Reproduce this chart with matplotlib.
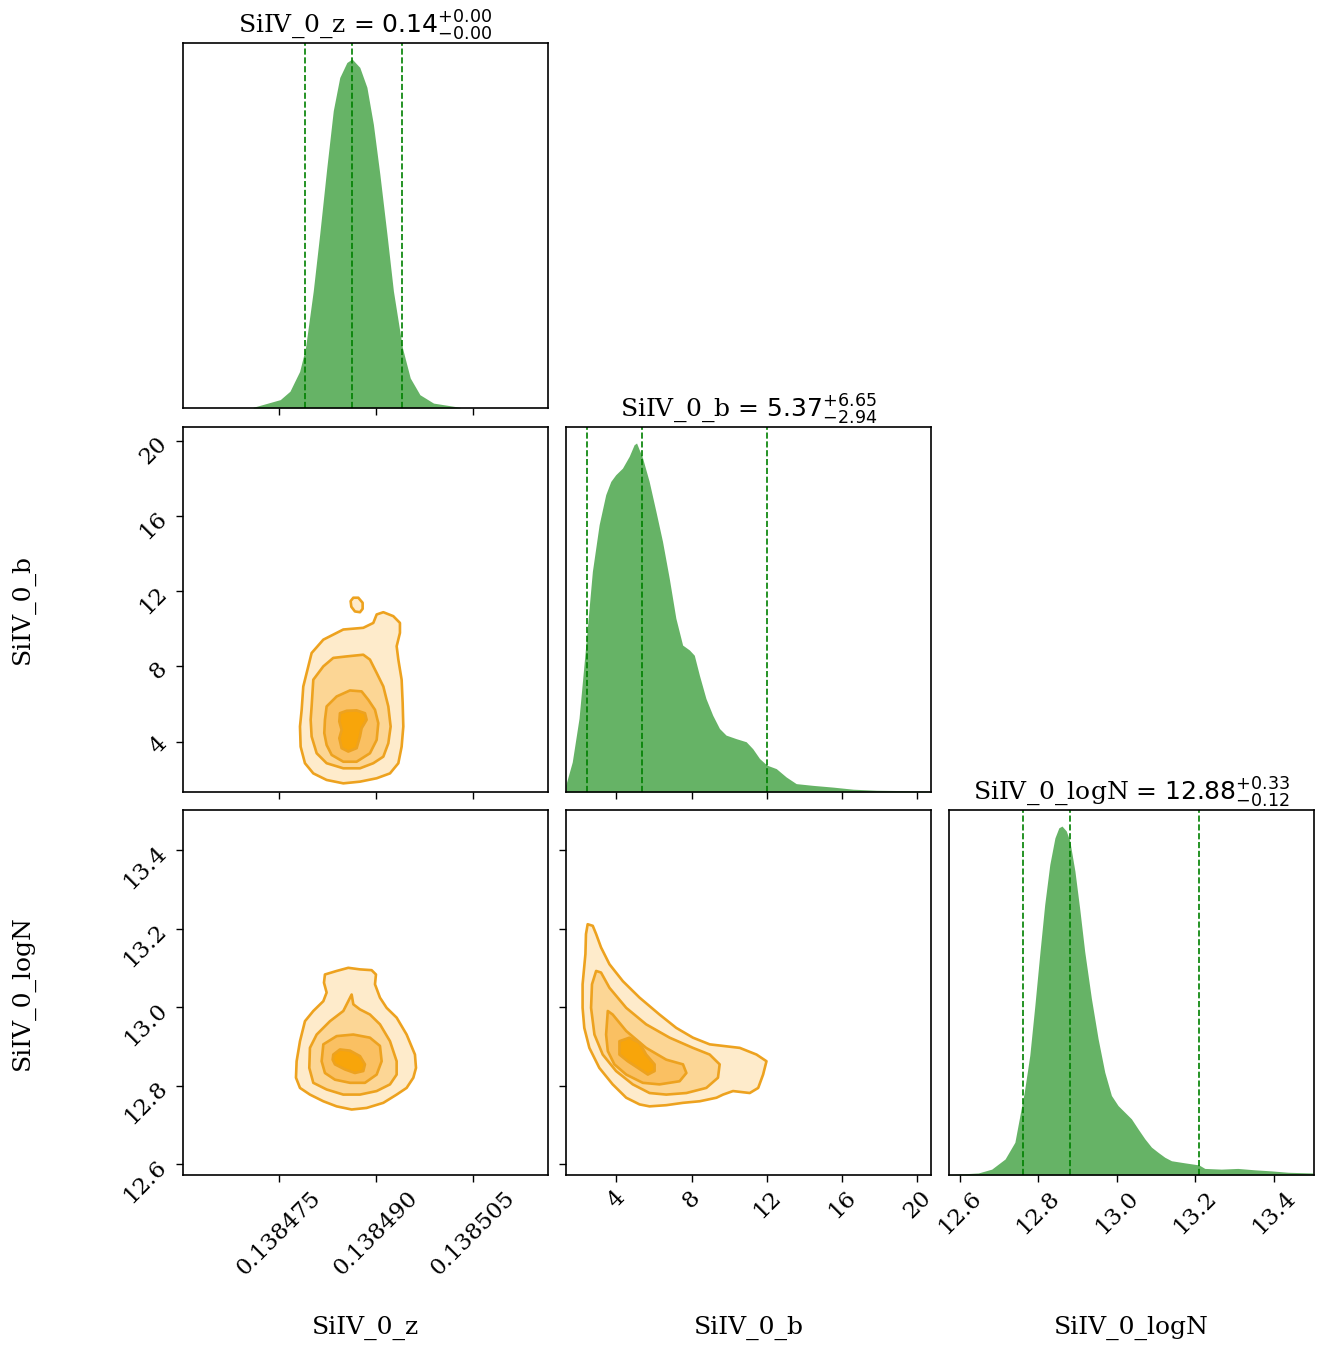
import numpy as np
import matplotlib
matplotlib.use("Agg")
import matplotlib.pyplot as plt

plt.rcParams['font.family'] = ['DejaVu Serif']

# ---- parameters, quantiles (16/50/84) and axis ranges ----
names = ["SiIV_0_z", "SiIV_0_b", "SiIV_0_logN"]
medians = [0.14, 5.37, 12.88]
err_lo = [0.00, 2.94, 0.12]
err_hi = [0.00, 6.65, 0.33]
quant_z = [0.138479, 0.1384863, 0.1384941]
quant_b = [2.43, 5.37, 12.02]
quant_n = [12.76, 12.88, 13.21]
range_z = [0.13846016, 0.1385166]
range_b = [1.32, 20.73]
range_n = [12.572, 13.502]

ticks_z = [0.138475, 0.138490, 0.138505]
ticks_b = [4, 8, 12, 16, 20]
ticks_n = [12.6, 12.8, 13.0, 13.2, 13.4]
labels_z = ["0.138475", "0.138490", "0.138505"]
labels_b = ["4", "8", "12", "16", "20"]
labels_n = ["12.6", "12.8", "13.0", "13.2", "13.4"]

# ---- 1D marginal histograms (heights relative to peak = 100) ----
hz_x = [0.138471, 0.1384752, 0.1384767, 0.1384782, 0.1384791, 0.1384803, 0.1384813,
        0.1384824, 0.1384834, 0.1384844, 0.1384855, 0.1384863, 0.1384875, 0.1384886,
        0.1384896, 0.1384906, 0.1384917, 0.1384927, 0.1384941, 0.1384953, 0.1384968,
        0.1384989, 0.138503]
hz_y = [0.2, 2.4, 4.8, 10.5, 17.2, 33.5, 49.8, 68.9, 85.2, 94.7, 99.0, 100, 97.6, 91.9,
        81.3, 67.0, 49.8, 33.5, 17.2, 8.6, 3.8, 1.4, 0.2]

hb_x = [1.30, 1.65, 2.01, 2.42, 2.72, 3.08, 3.43, 3.70, 3.96, 4.32, 4.68, 4.94, 5.07,
        5.39, 5.74, 6.10, 6.45, 6.81, 7.16, 7.52, 7.88, 8.14, 8.41, 8.76, 9.12, 9.48,
        9.83, 10.36, 10.90, 11.25, 11.61, 12.0, 12.5, 13.03, 13.56, 14.45, 15.52, 16.59,
        17.83, 20.68]
hb_y = [1.9, 8.6, 21.1, 45.0, 63.2, 76.6, 85.2, 89.0, 90.9, 92.8, 96.2, 99.5, 100,
        95.7, 89.0, 80.4, 71.8, 61.2, 49.8, 42.1, 40.7, 39.2, 33.5, 26.8, 22.0, 18.2,
        16.3, 15.3, 14.4, 12.4, 9.6, 7.7, 6.7, 4.3, 2.4, 1.9, 1.4, 0.8, 0.5, 0.3]

hn_x = [12.570, 12.647, 12.681, 12.715, 12.740, 12.764, 12.778, 12.791, 12.804, 12.816,
        12.829, 12.842, 12.852, 12.860, 12.871, 12.880, 12.893, 12.905, 12.918, 12.935,
        12.952, 12.969, 12.986, 13.003, 13.020, 13.037, 13.054, 13.071, 13.088, 13.105,
        13.122, 13.139, 13.173, 13.209, 13.224, 13.266, 13.308, 13.351, 13.393, 13.436,
        13.499]
hn_y = [0.1, 0.6, 1.7, 4.6, 9.4, 23.8, 34.3, 48.7, 64.0, 77.5, 89.0, 96.6, 99.5, 100,
        98.6, 95.7, 87.1, 76.5, 64.0, 50.6, 39.1, 29.5, 22.8, 19.9, 18.0, 16.1, 13.2,
        10.4, 8.0, 6.5, 5.1, 4.1, 3.5, 2.9, 1.9, 1.7, 1.9, 1.5, 1.2, 0.8, 0.6]

# ---- 2D credible contours, outer -> inner (z given as offset in 1e-6 from Z_REF) ----
Z_REF = 0.138475

zb_levels = [
    [(3.51, 5.69), (3.76, 6.93), (5.05, 8.71), (6.86, 9.42), (9.95, 9.96), (13.04, 10.05),
     (14.59, 10.31), (15.11, 10.76), (16.14, 10.88), (17.68, 10.67), (18.71, 10.31),
     (18.71, 9.78), (18.20, 9.07), (18.46, 8.36), (18.97, 7.29), (19.13, 6.05),
     (19.23, 4.80), (18.97, 3.73), (18.46, 2.85), (17.17, 2.31), (15.11, 2.05),
     (12.53, 1.87), (9.95, 1.78), (7.37, 1.96), (5.31, 2.31), (4.02, 2.85), (3.35, 3.73),
     (3.25, 4.80)],
    [(5.05, 5.87), (5.31, 7.29), (6.86, 8.00), (8.40, 8.45), (10.47, 8.53), (13.04, 8.62),
     (14.07, 8.36), (15.11, 7.65), (16.14, 6.93), (16.91, 5.87), (17.27, 4.80),
     (16.91, 3.91), (16.14, 3.20), (14.59, 2.85), (12.53, 2.58), (9.95, 2.58),
     (7.37, 2.85), (5.83, 3.38), (5.05, 4.27), (4.90, 5.16)],
    [(7.11, 5.16), (7.37, 5.87), (8.92, 6.40), (10.98, 6.72), (12.78, 6.67), (13.82, 6.22),
     (14.85, 5.69), (15.36, 4.98), (15.11, 4.09), (14.07, 3.38), (12.01, 2.93),
     (9.95, 2.93), (8.15, 3.29), (7.37, 3.82), (7.01, 4.45)],
    [(9.43, 5.51), (10.47, 5.64), (12.01, 5.66), (13.30, 5.51), (13.56, 5.16),
     (12.78, 4.71), (12.53, 4.27), (12.01, 3.65), (10.72, 3.47), (9.69, 3.65),
     (9.33, 4.18), (9.69, 4.62), (9.33, 5.07)],
]
zb_island = [(11.08, 11.47), (11.50, 11.65), (12.27, 11.65), (12.94, 11.38),
             (12.94, 11.06), (12.53, 10.88), (11.75, 10.92), (11.19, 11.17)]

zn_levels = [
    [(7.11, 13.083), (8.92, 13.092), (10.72, 13.100), (12.53, 13.096), (14.33, 13.094),
     (15.00, 13.083), (14.85, 13.058), (15.62, 13.024), (16.65, 12.998), (18.20, 12.973),
     (19.74, 12.930), (21.03, 12.879), (21.19, 12.845), (20.78, 12.820), (19.74, 12.794),
     (18.20, 12.777), (16.14, 12.756), (13.56, 12.743), (11.24, 12.739), (8.92, 12.747),
     (6.86, 12.760), (4.79, 12.777), (3.25, 12.794), (2.63, 12.820), (2.73, 12.862),
     (3.25, 12.913), (4.02, 12.964), (5.31, 12.990), (6.86, 13.015), (7.37, 13.037),
     (6.96, 13.062)],
    [(11.24, 13.032), (11.50, 13.007), (12.53, 12.994), (14.07, 12.981), (15.62, 12.956),
     (17.17, 12.913), (18.20, 12.862), (18.20, 12.828), (17.17, 12.803), (15.11, 12.786),
     (12.53, 12.777), (9.95, 12.777), (7.37, 12.790), (5.31, 12.807), (4.69, 12.845),
     (4.79, 12.896), (5.83, 12.930), (7.89, 12.964), (9.95, 12.990), (10.72, 13.015)],
    [(6.86, 12.905), (8.92, 12.926), (11.50, 12.930), (14.07, 12.922), (15.62, 12.901),
     (15.88, 12.862), (15.11, 12.828), (13.30, 12.807), (10.98, 12.807), (8.66, 12.815),
     (7.11, 12.832), (6.60, 12.862)],
    [(8.40, 12.879), (9.43, 12.892), (10.98, 12.889), (12.53, 12.875), (13.30, 12.854),
     (13.04, 12.837), (11.75, 12.832), (10.21, 12.841), (8.66, 12.854), (8.30, 12.866)],
]

bn_levels = [
    [(2.47, 13.211), (2.74, 13.207), (2.92, 13.186), (3.18, 13.152), (3.63, 13.109),
     (4.34, 13.066), (5.23, 13.024), (6.29, 12.981), (7.18, 12.947), (8.07, 12.922),
     (8.96, 12.905), (9.67, 12.901), (10.56, 12.896), (11.45, 12.879), (11.98, 12.862),
     (11.80, 12.828), (11.54, 12.794), (11.09, 12.781), (10.20, 12.786), (9.67, 12.777),
     (9.32, 12.769), (8.43, 12.760), (7.54, 12.756), (6.65, 12.750), (5.76, 12.747),
     (5.23, 12.752), (4.52, 12.769), (3.80, 12.803), (3.09, 12.845), (2.56, 12.896),
     (2.29, 12.947), (2.20, 12.998), (2.20, 13.058), (2.35, 13.135), (2.38, 13.186)],
    [(2.92, 13.092), (3.18, 13.088), (3.63, 13.049), (4.52, 12.998), (5.58, 12.956),
     (6.83, 12.922), (8.07, 12.896), (8.96, 12.879), (9.49, 12.854), (9.40, 12.820),
     (8.78, 12.794), (7.72, 12.781), (6.65, 12.777), (5.76, 12.781), (4.87, 12.803),
     (3.98, 12.837), (3.27, 12.879), (2.83, 12.930), (2.65, 12.998), (2.70, 13.058)],
    [(3.54, 12.990), (3.80, 12.981), (4.52, 12.939), (5.58, 12.896), (6.65, 12.866),
     (7.54, 12.854), (7.72, 12.832), (7.36, 12.811), (6.29, 12.803), (5.40, 12.807),
     (4.52, 12.828), (3.89, 12.854), (3.54, 12.888), (3.45, 12.930)],
    [(4.16, 12.913), (4.69, 12.922), (5.23, 12.909), (5.58, 12.879), (6.03, 12.854),
     (6.03, 12.837), (5.67, 12.828), (5.14, 12.845), (4.60, 12.862), (4.16, 12.879)],
]

fill_colors = ['#feebcb', '#fcd695', '#fac062', '#f8a50a']
line_color = '#eda21f'
hist_color = '#66b366'

fig = plt.figure(figsize=(13.3, 13.55), dpi=100)
lefts = [0.1376, 0.4256, 0.7135]
bottoms = [0.6989, 0.4155, 0.1328]
w, h = 0.2744, 0.2694

ranges = [range_z, range_b, range_n]
ticks = [ticks_z, ticks_b, ticks_n]
labels = [labels_z, labels_b, labels_n]
quants = [quant_z, quant_b, quant_n]
hists = [(hz_x, hz_y), (hb_x, hb_y), (hn_x, hn_y)]

TICK_FS = 16.5
LABEL_FS = 18
TITLE_FS = 18


def draw_contours(ax, levels, xconv, extra=None):
    for i, poly in enumerate(levels):
        xs = [xconv(p[0]) for p in poly]
        ys = [p[1] for p in poly]
        ax.fill(xs, ys, facecolor=fill_colors[i], edgecolor=line_color, lw=1.9,
                joinstyle='round')
    if extra is not None:
        xs = [xconv(p[0]) for p in extra]
        ys = [p[1] for p in extra]
        ax.fill(xs, ys, facecolor=fill_colors[0], edgecolor=line_color, lw=1.9,
                joinstyle='round')


def zconv(v):
    return Z_REF + v * 1e-6


def ident(v):
    return v


contours = {(1, 0): (zb_levels, zconv, zb_island),
            (2, 0): (zn_levels, zconv, None),
            (2, 1): (bn_levels, ident, None)}

for row in range(3):
    for col in range(row + 1):
        ax = fig.add_axes([lefts[col], bottoms[row], w, h])
        for s in ax.spines.values():
            s.set_linewidth(1.2)
        ax.tick_params(length=5, width=1.0, labelsize=TICK_FS)
        ax.set_xlim(ranges[col])
        ax.set_xticks(ticks[col])
        if row == 2:
            ax.set_xticklabels(labels[col], rotation=45, ha='center')
            ax.set_xlabel(names[col], fontsize=LABEL_FS)
            ax.xaxis.set_label_coords(0.5, -0.385)
        else:
            ax.set_xticklabels([])
        if row == col:
            hx, hy = hists[col]
            ax.fill_between(hx, hy, 0, color=hist_color, lw=0)
            ax.set_ylim(0, 104.6)
            ax.set_yticks([])
            for q in quants[col]:
                ax.axvline(q, color='green', ls='--', lw=1.2)
            title = "%s = $%.2f^{+%.2f}_{-%.2f}$" % (names[col], medians[col],
                                                      err_hi[col], err_lo[col])
            ax.set_title(title, fontsize=TITLE_FS, pad=5)
        else:
            levels, conv, extra = contours[(row, col)]
            draw_contours(ax, levels, conv, extra)
            ax.set_xlim(ranges[col])
            ax.set_ylim(ranges[row])
            ax.set_yticks(ticks[row])
            if col == 0:
                ax.set_yticklabels(labels[row], rotation=45)
                ax.set_ylabel(names[row], fontsize=LABEL_FS)
                ax.yaxis.set_label_coords(-0.405, 0.5)
            else:
                ax.set_yticklabels([])

fig.savefig("out.png", dpi=100)
